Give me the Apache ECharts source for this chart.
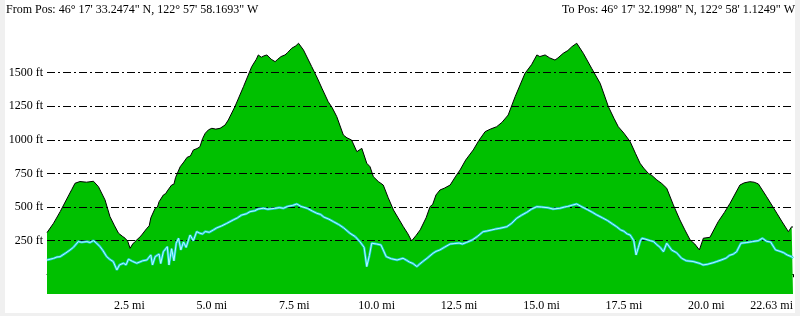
<!DOCTYPE html>
<html><head><meta charset="utf-8">
<script src="https://cdn.jsdelivr.net/npm/echarts@6/dist/echarts.min.js"></script>
<style>
html,body{margin:0;padding:0;background:#f0f0f0;overflow:hidden;}
#bg{position:absolute;left:5px;top:0;width:790px;height:313px;background:#fff;}
#c{position:absolute;left:0;top:0;width:800px;height:316px;}
</style></head><body><div id="bg"></div><div id="c"></div>
<script>
const fromText = 'From Pos: 46° 17\' 33.2474" N, 122° 57\' 58.1693" W';
const toText = 'To Pos: 46° 17\' 32.1998" N, 122° 58\' 1.1249" W';
const totalMi = 22.63;
const xTicks = [2.5, 5.0, 7.5, 10.0, 12.5, 15.0, 17.5, 20.0, 22.63];
const yTicks = [250, 500, 750, 1000, 1250, 1500];

const terrainMi = [0,0.2,0.4,0.6,0.75,0.85,1.0,1.2,1.41,1.56,1.76,1.91,2.05,2.17,2.3,2.37,2.45,2.52,2.6,2.67,2.85,3.03,3.1,3.15,3.28,3.35,3.4,3.53,3.6,3.65,3.78,3.85,3.9,4.04,4.15,4.25,4.35,4.44,4.55,4.64,4.72,4.8,4.9,5.0,5.12,5.25,5.4,5.5,5.7,5.96,6.21,6.35,6.41,6.5,6.58,6.67,6.8,6.92,7.0,7.1,7.22,7.3,7.42,7.55,7.63,7.78,8.03,8.2,8.34,8.53,8.65,8.79,8.99,9.1,9.24,9.4,9.55,9.7,9.8,9.9,10.05,10.2,10.35,10.51,10.65,10.81,10.95,11.06,11.2,11.32,11.5,11.62,11.7,11.8,11.92,12.05,12.23,12.4,12.53,12.7,12.93,13.1,13.29,13.45,13.64,13.8,13.99,14.2,14.5,14.7,14.86,14.95,15.11,15.25,15.41,15.5,15.66,15.8,15.92,16.07,16.27,16.52,16.78,17.03,17.2,17.33,17.5,17.69,17.85,17.99,18.1,18.24,18.35,18.5,18.65,18.8,19.0,19.2,19.35,19.51,19.65,19.79,19.91,20.11,20.36,20.55,20.72,21.02,21.15,21.32,21.45,21.58,21.83,22.14,22.3,22.49,22.59,22.63];
const terrainFt = [310,380,466,560,630,677,690,685,692,652,553,429,360,305,280,268,245,193,225,243,285,342,360,420,491,500,540,590,600,620,664,670,720,800,835,870,880,925,935,949,1010,1049,1075,1086,1080,1086,1110,1148,1247,1396,1545,1600,1632,1615,1625,1632,1600,1582,1600,1620,1632,1650,1681,1700,1719,1669,1545,1460,1384,1284,1240,1173,1036,1015,999,912,937,826,800,726,690,664,570,478,420,354,300,248,290,330,420,503,520,590,627,640,664,730,776,850,925,995,1061,1080,1098,1130,1185,1321,1495,1560,1632,1620,1632,1610,1594,1610,1644,1665,1693,1719,1644,1533,1421,1247,1160,1098,1050,987,900,826,790,751,735,702,675,640,516,404,330,255,225,181,268,275,391,460,528,664,680,689,685,672,577,454,390,317,354,350];

const signalMi = [0,0.1,0.2,0.3,0.4,0.55,0.7,0.8,0.95,1.05,1.21,1.3,1.41,1.5,1.61,1.7,1.81,1.9,2.01,2.12,2.2,2.32,2.4,2.47,2.6,2.72,2.9,3.03,3.15,3.2,3.28,3.4,3.45,3.53,3.65,3.7,3.78,3.85,3.92,3.99,4.06,4.14,4.22,4.34,4.44,4.54,4.64,4.72,4.8,4.92,5.05,5.15,5.3,5.45,5.65,5.78,5.9,6.05,6.16,6.3,6.4,6.56,6.7,6.9,7.05,7.17,7.3,7.45,7.58,7.7,7.9,8.05,8.18,8.3,8.4,8.55,8.69,8.85,9.0,9.19,9.35,9.5,9.62,9.7,9.78,9.85,10.0,10.13,10.2,10.29,10.45,10.62,10.8,10.9,11.0,11.1,11.22,11.3,11.4,11.53,11.71,11.8,11.92,12.05,12.23,12.35,12.5,12.6,12.73,12.9,13.05,13.23,13.35,13.5,13.6,13.74,13.95,14.1,14.25,14.4,14.55,14.7,14.86,15.0,15.2,15.35,15.56,15.7,15.8,15.95,16.07,16.2,16.4,16.55,16.68,16.85,17.0,17.15,17.28,17.4,17.5,17.6,17.69,17.8,17.87,17.94,18.0,18.05,18.14,18.3,18.4,18.5,18.6,18.7,18.8,18.95,19.1,19.25,19.4,19.6,19.81,19.9,20.05,20.2,20.32,20.45,20.6,20.7,20.82,20.92,21.05,21.23,21.4,21.58,21.7,21.83,21.95,22.1,22.24,22.35,22.45,22.59,22.63];
const signalFt = [106,112,118,128,131,155,181,200,243,238,243,236,250,232,205,175,131,112,94,32,70,82,70,112,95,82,100,106,144,69,131,150,80,168,205,69,190,100,230,268,181,240,200,292,250,317,305,300,318,312,330,345,360,378,404,420,440,450,466,472,485,491,484,490,496,491,505,512,523,505,490,470,454,445,425,410,391,370,345,305,280,240,200,57,140,231,225,218,180,131,115,106,119,105,90,80,57,75,95,119,156,170,181,200,225,228,232,225,237,255,280,317,322,330,336,342,354,380,417,440,460,485,503,500,495,485,491,500,505,515,523,505,480,460,441,420,400,375,354,330,320,300,292,250,144,200,250,268,262,250,243,220,200,168,231,180,160,119,100,95,80,69,75,85,95,106,120,140,150,168,231,236,243,250,268,245,240,181,170,160,144,130,120,106,110];

const terrain = terrainMi.map((m, i) => [m, terrainFt[i]]);
const signal = signalMi.map((m, i) => [m, signalFt[i]]);

const font = 'Liberation Serif';
const chart = echarts.init(document.getElementById('c'), null, {renderer: 'canvas'});
chart.setOption({
  animation: false,
  backgroundColor: 'transparent',
  title: [
    {text: fromText, left: 6, top: 4, padding: 0, textStyle: {fontFamily: font, fontSize: 12, fontWeight: 'normal', color: '#000'}},
    {text: toText, right: 5, top: 4, padding: 0, textStyle: {fontFamily: font, fontSize: 12, fontWeight: 'normal', color: '#000'}}
  ],
  grid: {left: 47, right: 7, top: 20, bottom: 22},
  xAxis: {
    type: 'value', min: 0, max: totalMi,
    axisLine: {show: true, lineStyle: {color: '#000', width: 1}},
    axisTick: {show: true, length: 3, lineStyle: {color: '#000'}, customValues: [0].concat(xTicks)},
    axisLabel: {
      customValues: xTicks, margin: 6, color: '#000', fontFamily: font, fontSize: 12,
      alignMaxLabel: 'right',
      formatter: v => (Math.abs(v - totalMi) < 1e-6 ? v.toFixed(2) : v.toFixed(1)) + ' mi'
    },
    splitLine: {show: false}
  },
  yAxis: {
    type: 'value', min: -147, max: 1892,
    axisLine: {show: false},
    axisTick: {show: false},
    axisLabel: {customValues: yTicks, margin: 4, color: '#000', fontFamily: font, fontSize: 12, formatter: v => v + ' ft'},
    splitLine: {show: false}
  },
  series: [
    {
      type: 'line', data: terrain, showSymbol: false, z: 2,
      lineStyle: {color: '#000', width: 1},
      areaStyle: {color: '#00c000', opacity: 1, origin: 'start'},
      markLine: {
        silent: true, symbol: 'none', label: {show: false},
        lineStyle: {color: '#000', width: 1, type: [8, 3, 2, 3]},
        data: yTicks.map(v => ({yAxis: v}))
      }
    },
    {
      type: 'line', data: signal, showSymbol: false, z: 5,
      lineStyle: {color: '#1cc8d4', width: 2.5}
    },
    {
      type: 'line', data: signal, showSymbol: false, z: 6,
      lineStyle: {color: '#b8ffff', width: 1}
    }
  ]
});
</script></body></html>
